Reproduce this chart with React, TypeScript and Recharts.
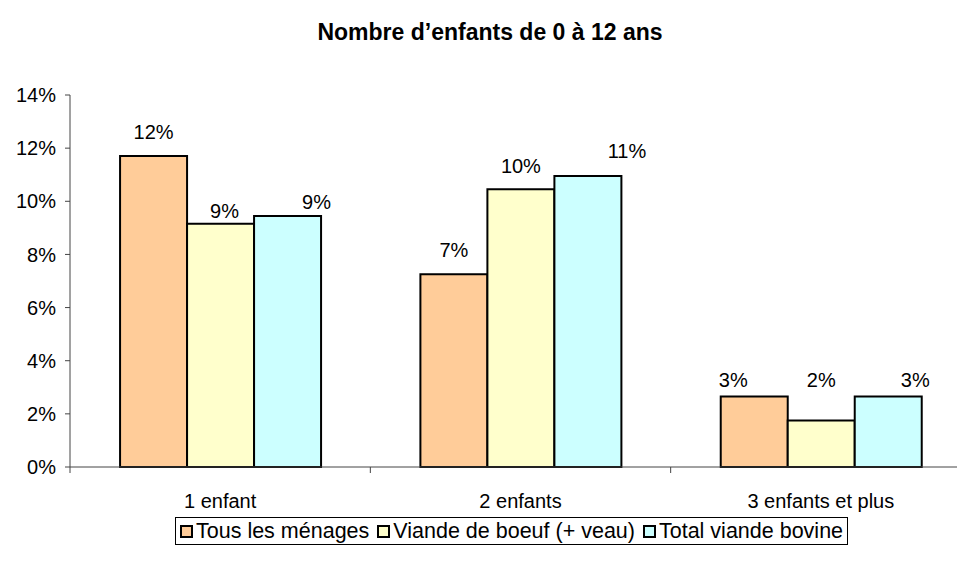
import React from 'react';
import { BarChart, Bar, XAxis, YAxis, LabelList, Legend } from 'recharts';

const categories = ['1 enfant', '2 enfants', '3 enfants et plus'];
const tousLesMenages = [11.7, 7.25, 2.65];
const viandeBoeuf = [9.15, 10.45, 1.75];
const totalViandeBovine = [9.45, 10.95, 2.65];
const yTicks = [0, 2, 4, 6, 8, 10, 12, 14];
const seriesNames = ['Tous les ménages', 'Viande de boeuf (+ veau)', 'Total viande bovine'];
const seriesKeys = ['tous', 'boeuf', 'bovine'];
const colors = ['#FFCC99', '#FFFFCC', '#CCFFFF'];
const title = 'Nombre d\u2019enfants de 0 à 12 ans';

// label nudges [dx, distance above bar] per series per category (Excel manual placements)
const labelNudges = [
  [[0, 17], [0, 17], [-21, 10]],
  [[4, 6], [0, 16], [0, 34]],
  [[29, 7], [39, 18], [27, 10]],
];

const data = categories.map((c, i) => ({
  name: c,
  tous: tousLesMenages[i],
  boeuf: viandeBoeuf[i],
  bovine: totalViandeBovine[i],
}));

const FONT = '"Liberation Sans", Arial, sans-serif';

const makeLabel = (s: number) => (props: any) => {
  const { x, y, width, value, index } = props;
  const [dx, off] = labelNudges[s][index] || [0, 16];
  return (
    <text
      x={Number(x) + Number(width) / 2 + dx}
      y={Number(y) - off}
      textAnchor="middle"
      fontSize={20}
      fontFamily={FONT}
      fill="#000"
    >
      {`${Math.round(Number(value))}%`}
    </text>
  );
};

const XTick = (props: any) => {
  const { x, y, payload } = props;
  const half = payload && payload.offset ? payload.offset : 150;
  const isLast = payload.index === categories.length - 1;
  return (
    <g>
      <line x1={x - half} x2={x - half} y1={y - 6} y2={y} stroke="#444" strokeWidth={1} />
      {isLast && <line x1={x + half} x2={x + half} y1={y - 6} y2={y} stroke="#444" strokeWidth={1} />}
      <text x={x} y={y + 35} textAnchor="middle" fontSize={20} fontFamily={FONT} fill="#000">
        {payload.value}
      </text>
    </g>
  );
};

const LegendContent = () => (
  <div
    style={{
      border: '1px solid #000',
      display: 'flex',
      alignItems: 'center',
      height: 28,
      boxSizing: 'border-box',
      padding: '0 4px',
      fontFamily: FONT,
      fontSize: 21.5,
      whiteSpace: 'nowrap',
      background: '#fff',
    }}
  >
    {seriesNames.map((n, i) => (
      <div key={n} style={{ display: 'flex', alignItems: 'center', marginRight: i < 2 ? 8 : 0 }}>
        <div
          style={{
            width: 13,
            height: 13,
            boxSizing: 'border-box',
            border: '2px solid #000',
            background: colors[i],
            marginRight: 3,
          }}
        />
        <span style={{ lineHeight: '26px' }}>{n}</span>
      </div>
    ))}
  </div>
);

export default function App() {
  return (
    <div style={{ position: 'relative', width: 957, height: 564, overflow: 'hidden', background: '#fff' }}>
      <div
        style={{
          position: 'absolute',
          left: 0,
          top: 11,
          width: 964,
          textAlign: 'center',
          fontFamily: FONT,
          fontWeight: 'bold',
          fontSize: 23,
          lineHeight: '26px',
          color: '#000',
          zIndex: 2,
        }}
      >
        {title}
      </div>
      <BarChart
        width={980}
        height={564}
        data={data}
        margin={{ top: 87, right: 17, left: 0, bottom: 75 }}
        barGap={0}
        barCategoryGap="16.67%"
      >
        <XAxis
          dataKey="name"
          axisLine={{ stroke: '#444', strokeWidth: 1 }}
          tickLine={false}
          tickSize={6}
          tickMargin={0}
          height={30}
          tick={<XTick />}
          interval={0}
        />
        <YAxis
          width={62}
          domain={[0, 14]}
          ticks={yTicks}
          interval={0}
          axisLine={{ stroke: '#444', strokeWidth: 1 }}
          tickLine={{ stroke: '#444', strokeWidth: 1 }}
          tickSize={5}
          tickMargin={9}
          tickFormatter={(v: number) => `${v}%`}
          tick={{ fontSize: 20, fontFamily: FONT, fill: '#000' }}
        />
        <Legend
          verticalAlign="middle"
          layout="horizontal"
          align="center"
          content={<LegendContent />}
          wrapperStyle={{ left: 167, top: 509, width: 'auto', height: 28 }}
        />
        {seriesKeys.map((k, i) => (
          <Bar
            key={k}
            dataKey={k}
            name={seriesNames[i]}
            fill={colors[i]}
            stroke="#000"
            strokeWidth={2}
            isAnimationActive={false}
          >
            <LabelList dataKey={k} content={makeLabel(i)} />
          </Bar>
        ))}
      </BarChart>
    </div>
  );
}
